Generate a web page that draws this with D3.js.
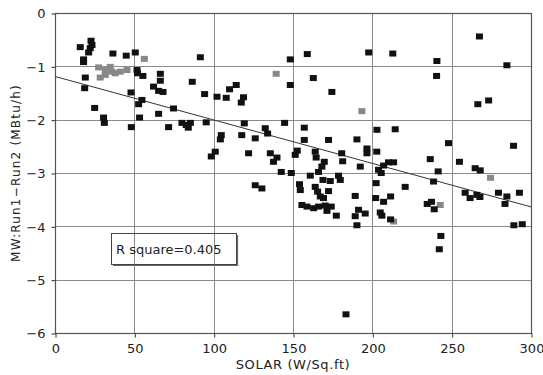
<!DOCTYPE html>
<html>
<head>
<meta charset="utf-8">
<script src="https://cdn.jsdelivr.net/npm/d3@7"></script>
<style>
  body { margin: 0; background: #fff; }
  text { font-family: "DejaVu Sans", sans-serif; fill: #222; }
</style>
</head>
<body>
<svg id="svg" width="543" height="375"></svg>
<script>
// 軸の目盛り
const xTicks = [0, 50, 100, 150, 200, 250, 300];
const yTicks = [0, -1, -2, -3, -4, -5, -6];

// 黒い点 [SOLAR, MW差]
const blackPts = [
  [15.9, -0.64], [22.7, -0.52], [23.3, -0.60], [21.2, -0.74], [18.0, -0.87], [18.0, -0.92],
  [22.2, -0.66], [36.5, -0.76], [44.9, -0.80], [50.6, -0.74], [51.7, -1.07], [52.0, -1.13],
  [55.4, -1.18], [19.1, -1.21], [18.7, -1.41], [66.4, -1.14], [66.4, -1.27], [62.1, -1.38],
  [65.3, -1.46], [68.1, -1.48], [91.6, -0.83], [86.5, -1.29], [94.3, -1.52], [47.9, -1.49],
  [54.8, -1.63], [52.7, -1.71], [25.0, -1.78], [30.6, -1.96], [31.1, -2.06], [48.1, -2.14],
  [53.3, -1.96], [65.3, -1.89], [74.7, -1.79], [71.6, -2.14], [80.0, -2.06], [82.7, -2.10],
  [85.3, -2.06], [84.0, -2.15], [95.3, -2.05], [102.1, -1.57], [107.9, -1.59], [114.2, -1.35],
  [110.0, -1.43], [118.8, -1.58], [117.4, -1.68], [148.3, -0.87], [159.0, -0.77], [197.7, -0.74],
  [148.3, -1.35], [162.8, -1.22], [174.5, -1.48], [119.3, -2.07], [132.5, -2.16], [134.0, -2.26],
  [144.7, -2.06], [157.1, -2.15], [202.9, -2.19], [104.8, -2.29], [104.2, -2.37], [117.7, -2.29],
  [126.2, -2.35], [157.1, -2.38], [172.4, -2.38], [190.3, -2.37], [196.6, -2.54], [196.6, -2.63],
  [101.0, -2.60], [98.5, -2.69], [122.0, -2.63], [135.7, -2.63], [139.9, -2.71], [137.7, -2.79],
  [152.7, -2.58], [151.4, -2.66], [164.0, -2.60], [164.6, -2.71], [169.7, -2.79], [168.2, -2.88],
  [180.7, -2.63], [181.3, -2.78], [192.4, -2.88], [142.6, -2.98], [148.9, -3.00], [160.9, -3.05],
  [166.1, -2.98], [168.9, -3.13], [173.5, -3.15], [178.7, -3.05], [179.8, -3.13], [126.2, -3.23],
  [130.4, -3.29], [154.1, -3.21], [154.6, -3.32], [164.0, -3.26], [165.5, -3.35], [167.2, -3.44],
  [169.2, -3.47], [172.4, -3.34], [189.2, -3.43], [155.6, -3.60], [158.8, -3.63], [163.0, -3.66],
  [166.1, -3.63], [170.3, -3.61], [174.1, -3.63], [171.4, -3.71], [177.3, -3.80], [189.2, -3.81],
  [191.3, -3.69], [195.5, -3.76], [190.3, -3.98], [183.4, -5.65], [212.9, -0.76], [240.7, -0.90],
  [240.5, -1.18], [267.5, -0.44], [284.8, -0.98], [266.5, -1.71], [273.3, -1.64], [214.4, -2.18],
  [248.0, -2.44], [289.0, -2.49], [202.8, -2.60], [210.2, -2.80], [213.4, -2.80], [207.1, -2.86],
  [203.9, -2.94], [205.6, -3.00], [236.5, -2.74], [254.9, -2.79], [241.5, -2.97], [264.8, -2.91],
  [268.0, -2.95], [238.6, -3.16], [202.4, -3.19], [220.7, -3.26], [202.1, -3.47], [207.1, -3.54],
  [211.5, -3.44], [258.5, -3.37], [261.6, -3.47], [265.9, -3.41], [267.8, -3.45], [279.5, -3.37],
  [284.8, -3.44], [283.6, -3.58], [292.7, -3.37], [234.6, -3.58], [237.3, -3.54], [239.0, -3.68],
  [205.0, -3.74], [206.0, -3.80], [211.5, -3.87], [289.2, -3.98], [294.5, -3.96], [243.2, -4.18],
  [242.2, -4.43]
];

// 灰色の点
const grayPts = [
  [56.3, -0.86], [27.5, -1.02], [31.7, -1.07], [34.8, -1.01], [35.9, -1.10], [28.5, -1.21],
  [31.7, -1.16], [38.0, -1.13], [41.1, -1.10], [45.4, -1.07], [139.4, -1.14], [193.4, -1.84],
  [274.5, -3.09], [242.8, -3.60], [213.4, -3.91]
];

// 回帰直線
const fitIntercept = -1.19;
const fitSlope = -0.00815;
const rSquare = "0.405";

const svg = d3.select("#svg");
const pLeft = 55, pRight = 531, pTop = 13, pBottom = 333;

const x = d3.scaleLinear().domain([0, 300]).range([pLeft, pRight]);
const y = d3.scaleLinear().domain([-6, 0]).range([pBottom, pTop]);

// グリッド
const grid = svg.append("g").attr("stroke", "#8a8a8a").attr("stroke-width", 1);
grid.selectAll(".gx").data(xTicks.slice(1, -1)).join("line")
  .attr("x1", d => Math.round(x(d)) + 0.5).attr("x2", d => Math.round(x(d)) + 0.5)
  .attr("y1", pTop).attr("y2", pBottom);
grid.selectAll(".gy").data(yTicks.slice(1, -1)).join("line")
  .attr("x1", pLeft).attr("x2", pRight)
  .attr("y1", d => Math.round(y(d)) + 0.5).attr("y2", d => Math.round(y(d)) + 0.5);

// 枠
svg.append("rect")
  .attr("x", pLeft + 0.5).attr("y", pTop + 0.5)
  .attr("width", pRight - pLeft).attr("height", pBottom - pTop)
  .attr("fill", "none").attr("stroke", "#555").attr("stroke-width", 1.2);

// 軸
const xAxis = svg.append("g").attr("transform", `translate(0.5,${pBottom + 0.5})`)
  .call(d3.axisBottom(x).tickValues(xTicks).tickSize(4).tickPadding(6));
const yAxis = svg.append("g").attr("transform", `translate(${pLeft + 0.5},0.5)`)
  .call(d3.axisLeft(y).tickValues(yTicks).tickSize(4).tickPadding(6)
    .tickFormat(d => d === 0 ? "0" : "\u2212" + Math.abs(d)));
[xAxis, yAxis].forEach(a => {
  a.select(".domain").remove();
  a.selectAll("line").attr("stroke", "#333");
  a.selectAll("text").attr("font-size", 13).attr("fill", "#222")
    .attr("font-family", "DejaVu Sans, sans-serif");
});

// 回帰直線
svg.append("line")
  .attr("x1", x(0)).attr("y1", y(fitIntercept))
  .attr("x2", x(300)).attr("y2", y(fitIntercept + fitSlope * 300))
  .attr("stroke", "#333").attr("stroke-width", 1);

// 点
const mw = 7, mh = 6;
svg.append("g").selectAll("rect").data(grayPts).join("rect")
  .attr("x", d => x(d[0]) - mw / 2).attr("y", d => y(d[1]) - mh / 2)
  .attr("width", mw).attr("height", mh).attr("fill", "#888");
svg.append("g").selectAll("rect").data(blackPts).join("rect")
  .attr("x", d => x(d[0]) - mw / 2).attr("y", d => y(d[1]) - mh / 2)
  .attr("width", mw).attr("height", mh).attr("fill", "#111");

// R square の枠
const bx = 111, by = 233, bw = 125, bh = 31;
svg.append("polyline")
  .attr("points", `${bx + 2},${by + bh + 1.5} ${bx + bw + 1.5},${by + bh + 1.5} ${bx + bw + 1.5},${by + 2}`)
  .attr("fill", "none").attr("stroke", "#666").attr("stroke-width", 1.2);
svg.append("rect")
  .attr("x", bx + 0.5).attr("y", by + 0.5).attr("width", bw).attr("height", bh)
  .attr("fill", "none").attr("stroke", "#444").attr("stroke-width", 1);
svg.append("text")
  .attr("x", bx + 5).attr("y", by + 21)
  .attr("font-size", 13)
  .text("R square=" + rSquare);

// 軸タイトル
svg.append("text")
  .attr("x", x(150)).attr("y", 369)
  .attr("text-anchor", "middle").attr("font-size", 13).attr("letter-spacing", 0.6)
  .text("SOLAR (W/Sq.ft)");
svg.append("text")
  .attr("transform", `translate(20,${(pTop + pBottom) / 2}) rotate(-90)`)
  .attr("text-anchor", "middle").attr("font-size", 12).attr("letter-spacing", 1.2)
  .text("MW:Run1\u2212Run2  (MBtu/h)");
</script>
</body>
</html>
